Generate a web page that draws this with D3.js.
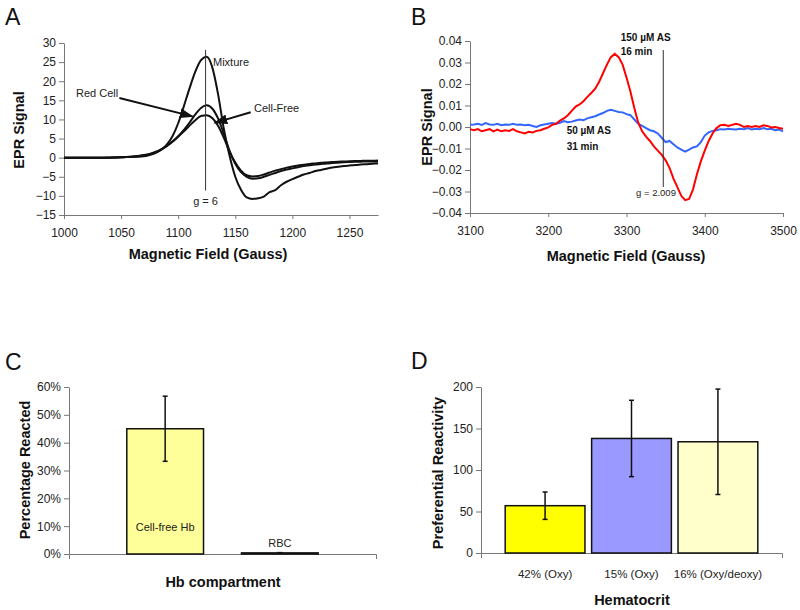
<!DOCTYPE html>
<html>
<head>
<meta charset="utf-8">
<script src="https://cdn.jsdelivr.net/npm/d3@7"></script>
<style>
  html, body { margin: 0; padding: 0; background: #fff; }
  svg { display: block; font-family: "Liberation Sans", Arial, sans-serif; }
</style>
</head>
<body>
<svg id="chart" width="800" height="610"></svg>
<script>
// ---------------- DATA ----------------
// Panel A: EPR spectra (field in Gauss, 5 G steps from 1000 to 1275)
const fieldA = d3.range(1000, 1276, 5);
const mixture = [0,0,0,0,0,0,0,0,0.05,0.05,0.1,0.15,0.2,0.25,0.4,0.7,1.2,2.0,3.4,5.6,9.0,13.5,18.2,22.5,25.5,26.4,23.5,16.5,7.5,0.5,-5.0,-8.4,-10.4,-10.8,-10.6,-10.2,-9.0,-8.5,-7.2,-6.3,-5.6,-5.0,-4.4,-4.0,-3.5,-3.2,-2.9,-2.6,-2.4,-2.2,-2.05,-1.9,-1.8,-1.7,-1.6,-1.5];
const redCell = [0,0,0,0,0,0,0,0,0,0.05,0.1,0.15,0.25,0.4,0.6,0.9,1.4,2.1,3.0,4.2,5.6,7.3,9.2,11.3,13.0,13.7,12.8,10.2,6.2,1.8,-1.6,-3.8,-5.0,-5.5,-5.4,-5.0,-4.5,-4.0,-3.5,-3.1,-2.8,-2.5,-2.2,-2.0,-1.8,-1.65,-1.5,-1.4,-1.3,-1.2,-1.15,-1.1,-1.05,-1.0,-1.0,-1.0];
const cellFree = [0,0,0,0,0,0,0,0,0,0.05,0.1,0.2,0.3,0.45,0.7,1.0,1.5,2.2,3.1,4.2,5.5,6.9,8.4,9.8,10.9,11.1,10.3,8.3,5.2,1.6,-1.3,-3.4,-4.6,-4.9,-4.8,-4.4,-3.9,-3.4,-3.0,-2.6,-2.3,-2.05,-1.85,-1.65,-1.5,-1.35,-1.25,-1.15,-1.05,-1.0,-0.95,-0.9,-0.85,-0.8,-0.8,-0.75];
const yTicksA = [-15,-10,-5,0,5,10,15,20,25,30];
const xTicksA = [1000,1050,1100,1150,1200,1250];

// Panel B: EPR spectra (field in Gauss, 5 G steps from 3100 to 3500)
const fieldB = d3.range(3100, 3501, 5);
const as150 = [-0.001,-0.0015,-0.001,-0.002,-0.0015,-0.001,-0.002,-0.0012,-0.002,-0.0015,-0.0018,-0.001,-0.002,-0.0025,-0.003,-0.0022,-0.0025,-0.0018,-0.0015,-0.0008,-0.0002,0.001,0.0015,0.003,0.004,0.0055,0.0075,0.0095,0.0105,0.012,0.014,0.0158,0.0178,0.021,0.025,0.029,0.0325,0.034,0.0325,0.029,0.023,0.0165,0.0088,0.002,-0.002,-0.0045,-0.0065,-0.009,-0.011,-0.013,-0.0155,-0.019,-0.024,-0.028,-0.032,-0.034,-0.0335,-0.029,-0.022,-0.016,-0.011,-0.0065,-0.003,-0.0005,0.0008,0.001,0.0005,0.001,0.0015,0.001,0,0.0005,0,0.0005,0,0.0008,0.0005,-0.0002,0,-0.0005,-0.0008];
const as50 = [0.001,0.0012,0.0015,0.001,0.0018,0.0012,0.001,0.0015,0.0008,0.0012,0.001,0.0015,0.001,0.0012,0.0008,0.001,0.0005,0,0.0008,0.0012,0.0015,0.0018,0.0015,0.002,0.0028,0.0022,0.0025,0.003,0.0035,0.0032,0.004,0.0045,0.005,0.0058,0.0065,0.0075,0.008,0.0075,0.007,0.0068,0.006,0.0055,0.0035,0.0015,0.0005,-0.0005,-0.0015,-0.002,-0.003,-0.005,-0.007,-0.0065,-0.008,-0.0095,-0.0105,-0.0115,-0.0105,-0.0095,-0.009,-0.007,-0.004,-0.0025,-0.0018,-0.0015,-0.001,-0.0012,-0.0008,-0.001,-0.0012,-0.0008,-0.001,-0.0005,-0.0012,-0.0008,-0.001,-0.0005,-0.001,-0.0008,-0.0015,-0.0012,-0.002];
const yTicksB = [-0.04,-0.03,-0.02,-0.01,0,0.01,0.02,0.03,0.04];
const xTicksB = [3100,3200,3300,3400,3500];

// Panel C: percentage reacted
const catsC = ["Cell-free Hb", "RBC"];
const valsC = [0.45, 0.004];
const errC = [0.117, 0.001];
const yTicksC = [0,0.1,0.2,0.3,0.4,0.5,0.6];

// Panel D: preferential reactivity
const catsD = ["42% (Oxy)", "15% (Oxy)", "16% (Oxy/deoxy)"];
const valsD = [57, 138, 134];
const errD = [16.5, 46, 63.5];
const colorsD = ["#FFFF00", "#9999FF", "#FFFFCC"];
const yTicksD = [0,50,100,150,200];

// ---------------- DRAW ----------------
const svg = d3.select("#chart");
const AX = "#777";
const TXT = "#222";

function styleAxis(g) {
  g.selectAll(".domain").attr("stroke", AX).attr("stroke-width", 1);
  g.selectAll(".tick line").attr("stroke", AX);
  g.selectAll(".tick text").attr("fill", TXT);
}
function panelLabel(x, y, t) {
  svg.append("text").attr("x", x).attr("y", y).attr("font-size", 23).attr("fill", "#111").text(t);
}
function title(x, y, t, rot) {
  const el = svg.append("text").attr("font-size", 14.5).attr("font-weight", "bold").attr("fill", "#111")
    .attr("text-anchor", "middle").text(t);
  if (rot) el.attr("transform", `translate(${x},${y}) rotate(-90)`);
  else el.attr("x", x).attr("y", y);
}

svg.append("defs").append("marker")
  .attr("id", "arrow").attr("viewBox", "0 0 10 10").attr("refX", 9).attr("refY", 5)
  .attr("markerWidth", 7).attr("markerHeight", 7).attr("orient", "auto")
  .append("path").attr("d", "M0,1.5L10,5L0,8.5Z").attr("fill", "#111");

// ----- Panel A -----
{
  const x = d3.scaleLinear().domain([1000, 1275]).range([64, 378]);
  const y = d3.scaleLinear().domain([-15, 30]).range([215, 43]);
  const gy = svg.append("g").attr("transform", `translate(${x(1000)},0)`)
    .call(d3.axisLeft(y).tickValues(yTicksA).tickFormat(d3.format("d")).tickSize(5).tickSizeOuter(0).tickPadding(3))
    .attr("font-size", 12).attr("font-family", null);
  styleAxis(gy);
  const gx = svg.append("g").attr("transform", `translate(0,${y(-15)})`)
    .call(d3.axisBottom(x).tickValues(xTicksA).tickFormat(d3.format("d")).tickSize(4).tickSizeOuter(0).tickPadding(9))
    .attr("font-size", 12).attr("font-family", null);
  styleAxis(gx);

  const line = d3.line().x((d, i) => x(fieldA[i])).y(d => y(d)).curve(d3.curveMonotoneX);
  [cellFree, redCell, mixture].forEach(s => {
    svg.append("path").datum(s).attr("d", line).attr("fill", "none")
      .attr("stroke", "#111").attr("stroke-width", 2);
  });
  // g = 6 marker
  svg.append("line").attr("x1", x(1124)).attr("x2", x(1124)).attr("y1", y(28.2)).attr("y2", y(-8.6))
    .attr("stroke", "#333").attr("stroke-width", 1);
  svg.append("text").attr("x", x(1124)).attr("y", y(-12.4)).attr("text-anchor", "middle")
    .attr("font-size", 11).attr("fill", TXT).text("g = 6");
  svg.append("text").attr("x", x(1130.5)).attr("y", y(24)).attr("font-size", 11).attr("fill", TXT).text("Mixture");
  svg.append("text").attr("x", x(1010.5)).attr("y", y(15.9)).attr("font-size", 11).attr("fill", TXT).text("Red Cell");
  svg.append("text").attr("x", x(1166.4)).attr("y", y(11.95)).attr("font-size", 11).attr("fill", TXT).text("Cell-Free");
  svg.append("line").attr("x1", x(1048.5)).attr("y1", y(15.6)).attr("x2", x(1112.5)).attr("y2", y(10.8))
    .attr("stroke", "#111").attr("stroke-width", 2).attr("marker-end", "url(#arrow)");
  svg.append("line").attr("x1", x(1163.5)).attr("y1", y(11.9)).attr("x2", x(1132)).attr("y2", y(9.1))
    .attr("stroke", "#111").attr("stroke-width", 2).attr("marker-end", "url(#arrow)");

  title(24, 130, "EPR Signal", true);
  title(208, 259, "Magnetic Field (Gauss)");
  panelLabel(5, 25, "A");
}

// ----- Panel B -----
{
  const x = d3.scaleLinear().domain([3100, 3500]).range([470, 783]);
  const y = d3.scaleLinear().domain([-0.04, 0.04]).range([213, 41]);
  const gy = svg.append("g").attr("transform", `translate(${x(3100)},0)`)
    .call(d3.axisLeft(y).tickValues(yTicksB).tickFormat(d3.format(".2f")).tickSize(5).tickSizeOuter(0).tickPadding(3))
    .attr("font-size", 12).attr("font-family", null);
  styleAxis(gy);
  const gx = svg.append("g").attr("transform", `translate(0,${y(-0.04)})`)
    .call(d3.axisBottom(x).tickValues(xTicksB).tickFormat(d3.format("d")).tickSize(4).tickSizeOuter(0).tickPadding(9))
    .attr("font-size", 12).attr("font-family", null);
  styleAxis(gx);

  const line = d3.line().x((d, i) => x(fieldB[i])).y(d => y(d)).curve(d3.curveLinear);
  svg.append("path").datum(as50).attr("d", line).attr("fill", "none")
    .attr("stroke", "#3366FF").attr("stroke-width", 2);
  svg.append("path").datum(as150).attr("d", line).attr("fill", "none")
    .attr("stroke", "#FF0000").attr("stroke-width", 2);

  svg.append("line").attr("x1", x(3347)).attr("x2", x(3347)).attr("y1", y(0.0358)).attr("y2", y(-0.0279))
    .attr("stroke", "#333").attr("stroke-width", 1);
  svg.append("text").attr("x", x(3337.7)).attr("y", y(-0.0321)).attr("text-anchor", "middle")
    .attr("font-size", 9.5).attr("fill", TXT).text("g = 2.009");
  const lab = (vx, vy, t) => svg.append("text").attr("x", x(vx)).attr("y", y(vy))
    .attr("font-size", 10).attr("font-weight", "bold").attr("fill", "#111").text(t);
  lab(3292.6, 0.0402, "150 µM AS");
  lab(3292.6, 0.0335, "16 min");
  lab(3223.6, -0.0033, "50 µM AS");
  lab(3223.6, -0.0105, "31 min");

  title(432, 127, "EPR Signal", true);
  title(626, 261, "Magnetic Field (Gauss)");
  panelLabel(411, 25, "B");
}

// ----- Panel C -----
{
  const x = d3.scaleBand().domain(catsC).range([69, 376]).paddingInner(0.331).paddingOuter(0.504);
  const y = d3.scaleLinear().domain([0, 0.6]).range([554, 387]);
  const gy = svg.append("g").attr("transform", `translate(69,0)`)
    .call(d3.axisLeft(y).tickValues(yTicksC).tickFormat(d3.format(".0%")).tickSize(5).tickSizeOuter(0).tickPadding(3))
    .attr("font-size", 12).attr("font-family", null);
  styleAxis(gy);
  const gx = svg.append("g").attr("transform", `translate(0,${y(0)})`)
    .call(d3.axisBottom(x).tickValues([]).tickSizeOuter(5))
    .attr("font-family", null);
  styleAxis(gx);

  svg.append("g").selectAll("rect").data(catsC).join("rect")
    .attr("x", d => x(d)).attr("width", x.bandwidth())
    .attr("y", (d, i) => y(valsC[i])).attr("height", (d, i) => y(0) - y(valsC[i]))
    .attr("fill", "#FFFF99").attr("stroke", "#111").attr("stroke-width", 1.5);
  const eb = svg.append("g").attr("stroke", "#111").attr("stroke-width", 1.5);
  catsC.forEach((c, i) => {
    const cx = x(c) + x.bandwidth() / 2;
    eb.append("line").attr("x1", cx).attr("x2", cx).attr("y1", y(valsC[i] - errC[i])).attr("y2", y(valsC[i] + errC[i]));
    [valsC[i] - errC[i], valsC[i] + errC[i]].forEach(v =>
      eb.append("line").attr("x1", cx - 2.5).attr("x2", cx + 2.5).attr("y1", y(v)).attr("y2", y(v)));
  });
  svg.append("text").attr("x", x(catsC[0]) + x.bandwidth() / 2).attr("y", y(0.083))
    .attr("text-anchor", "middle").attr("font-size", 11).attr("fill", TXT).text(catsC[0]);
  svg.append("text").attr("x", x(catsC[1]) + x.bandwidth() / 2).attr("y", y(0.025))
    .attr("text-anchor", "middle").attr("font-size", 11).attr("fill", TXT).text(catsC[1]);

  title(30, 470, "Percentage Reacted", true);
  title(223, 587, "Hb compartment");
  panelLabel(5, 370, "C");
}

// ----- Panel D -----
{
  const x = d3.scaleBand().domain(catsD).range([481, 782]).paddingInner(0.077).paddingOuter(0.28);
  const y = d3.scaleLinear().domain([0, 200]).range([553, 387]);
  const gy = svg.append("g").attr("transform", `translate(481,0)`)
    .call(d3.axisLeft(y).tickValues(yTicksD).tickSize(5).tickSizeOuter(0).tickPadding(3))
    .attr("font-size", 12).attr("font-family", null);
  styleAxis(gy);
  const gx = svg.append("g").attr("transform", `translate(0,${y(0)})`)
    .call(d3.axisBottom(x).tickSize(0).tickSizeOuter(5).tickPadding(17))
    .attr("font-size", 11.5).attr("font-family", null);
  styleAxis(gx);

  svg.append("g").selectAll("rect").data(catsD).join("rect")
    .attr("x", d => x(d)).attr("width", x.bandwidth())
    .attr("y", (d, i) => y(valsD[i])).attr("height", (d, i) => y(0) - y(valsD[i]))
    .attr("fill", (d, i) => colorsD[i]).attr("stroke", "#111").attr("stroke-width", 1.5);
  const eb = svg.append("g").attr("stroke", "#111").attr("stroke-width", 1.5);
  catsD.forEach((c, i) => {
    const cx = x(c) + x.bandwidth() / 2;
    eb.append("line").attr("x1", cx).attr("x2", cx).attr("y1", y(valsD[i] - errD[i])).attr("y2", y(valsD[i] + errD[i]));
    [valsD[i] - errD[i], valsD[i] + errD[i]].forEach(v =>
      eb.append("line").attr("x1", cx - 2.5).attr("x2", cx + 2.5).attr("y1", y(v)).attr("y2", y(v)));
  });

  title(443, 473, "Preferential Reactivity", true);
  title(632, 605, "Hematocrit");
  panelLabel(411, 369, "D");
}
</script>
</body>
</html>
